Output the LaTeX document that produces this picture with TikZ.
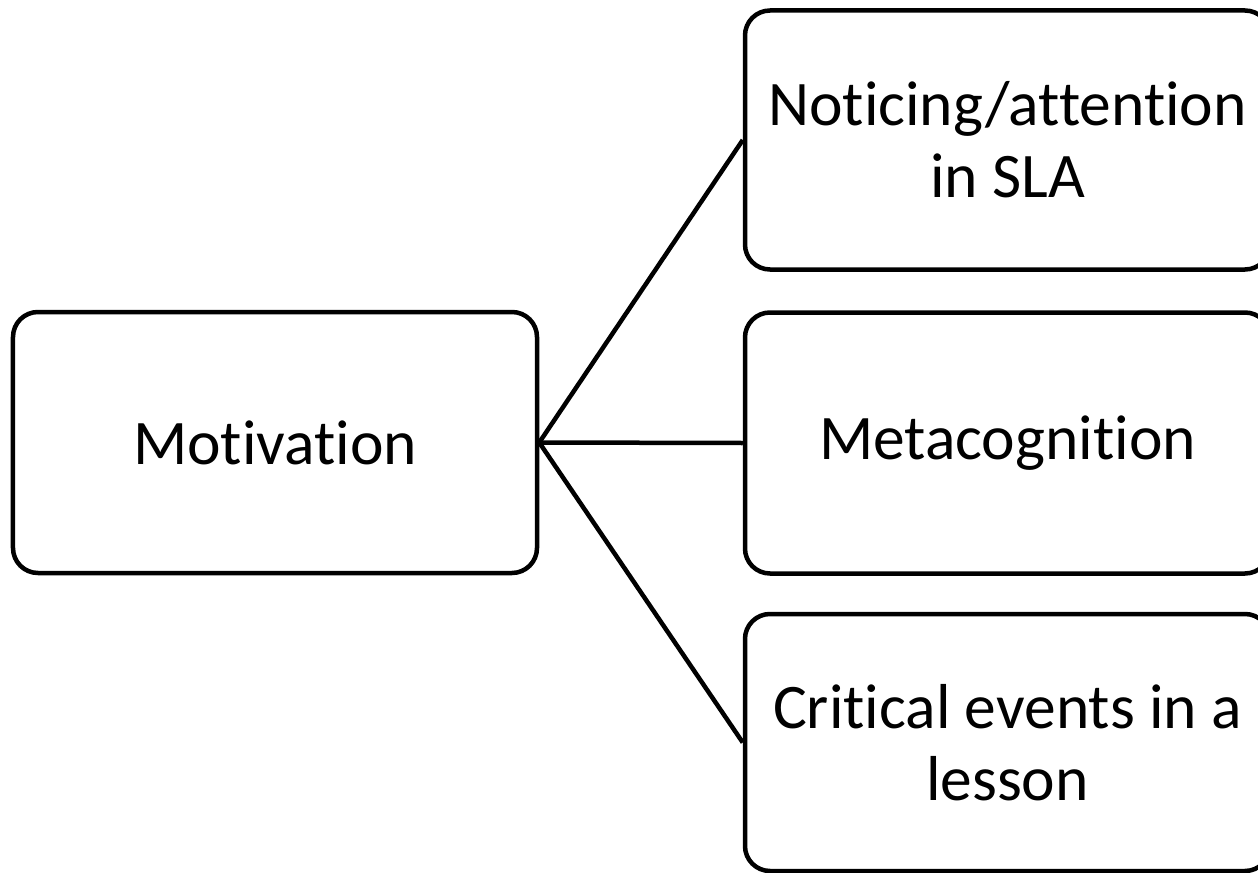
\documentclass[tikz,border=0pt]{standalone}
\usepackage{fontspec}
\setmainfont{Carlito}[Ligatures={NoCommon}]
\begin{document}
\begin{tikzpicture}[x=1bp,y=-1bp,
  box/.style={draw=black, line width=4.5bp, rounded corners=25bp, fill=white,
    align=center, inner sep=0pt, font=\fontsize{63.5bp}{72bp}\selectfont},
  link/.style={draw=black, line width=4.5bp}]
\useasboundingbox (0,0) rectangle (1258,873);
\node[box, minimum width=524bp, minimum height=261bp] (mot) at (275,442.5) {Motivation};
\node[box, minimum width=525bp, minimum height=259bp] (not) at (1007.5,140) {Noticing/attention\\in SLA};
\node[box, minimum width=525bp, minimum height=261bp] (meta) at (1007.5,443) {Metacognition};
\node[box, minimum width=525bp, minimum height=257bp] (crit) at (1007.5,742.5) {Critical events in a\\lesson};
\draw[link] (mot.east) -- (not.west);
\draw[link] (mot.east) -- (meta.west);
\draw[link] (mot.east) -- (crit.west);
\end{tikzpicture}
\end{document}
